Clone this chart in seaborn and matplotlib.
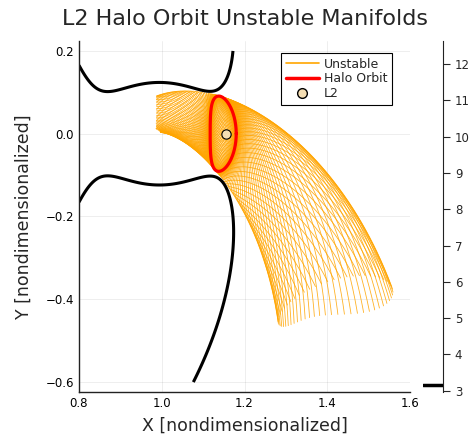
import numpy as np
import pandas as pd
import matplotlib
matplotlib.use("Agg")
import matplotlib.pyplot as plt
from matplotlib.lines import Line2D
import seaborn as sns

# ---------------- model parameters / chart data ----------------
MU = 0.012150585            # Earth-Moon mass ratio (CR3BP)
HALO_Z0 = 0.03              # halo out-of-plane amplitude at the y=0 crossing
HALO_X0_GUESS = 1.18
HALO_VY0_GUESS = -0.16
N_TRAJ = 60                 # manifold trajectories per branch
EPS = 1e-5                  # perturbation along unstable eigenvector
T_FINAL = 6.05              # integration time of manifold trajectories
MOON_STOP_R = 0.012         # stop trajectories on a close lunar approach
GRID_X = (0.8, 1.2)         # zero-velocity contour grid
GRID_Y = (-0.6, 0.2)
CBAR_LIM = (2.96, 12.64)
CBAR_TICKS = [3, 4, 5, 6, 7, 8, 9, 10, 11, 12]
X_TICKS = [0.8, 1.0, 1.2, 1.4, 1.6]
Y_TICKS = [-0.6, -0.4, -0.2, 0.0, 0.2]
XLIM = (0.8, 1.6)
YLIM = (-0.624, 0.224)
TITLE = "L2 Halo Orbit Unstable Manifolds"
XLABEL = "X [nondimensionalized]"
YLABEL = "Y [nondimensionalized]"
LEGEND_LABELS = ["Unstable", "Halo Orbit", "L2"]
ORANGE = "#FFA500"
RED = "#FF0000"
WHEAT = "#F5DEB3"

X_STOP = 1 - MU


# ---------------- CR3BP dynamics ----------------
def deriv(s):
    x, y, z = s[..., 0], s[..., 1], s[..., 2]
    vx, vy, vz = s[..., 3], s[..., 4], s[..., 5]
    r1 = np.sqrt((x + MU) ** 2 + y ** 2 + z ** 2)
    r2 = np.sqrt((x - 1 + MU) ** 2 + y ** 2 + z ** 2)
    c1 = (1 - MU) / r1 ** 3
    c2 = MU / r2 ** 3
    ax_ = 2 * vy + x - c1 * (x + MU) - c2 * (x - 1 + MU)
    ay_ = -2 * vx + y - c1 * y - c2 * y
    az_ = -c1 * z - c2 * z
    return np.stack([vx, vy, vz, ax_, ay_, az_], axis=-1)


def hess_u(p):
    x, y, z = p
    d1 = np.array([x + MU, y, z])
    d2 = np.array([x - 1 + MU, y, z])
    r1 = np.linalg.norm(d1)
    r2 = np.linalg.norm(d2)
    H = -((1 - MU) / r1 ** 3 + MU / r2 ** 3) * np.eye(3)
    H += 3 * (1 - MU) / r1 ** 5 * np.outer(d1, d1) + 3 * MU / r2 ** 5 * np.outer(d2, d2)
    H[0, 0] += 1
    H[1, 1] += 1
    return H


OMEGA = np.array([[0.0, 2.0, 0.0], [-2.0, 0.0, 0.0], [0.0, 0.0, 0.0]])


def deriv_stm(S):
    s = S[:6]
    Phi = S[6:].reshape(6, 6)
    A = np.zeros((6, 6))
    A[:3, 3:] = np.eye(3)
    A[3:, :3] = hess_u(s[:3])
    A[3:, 3:] = OMEGA
    return np.concatenate([deriv(s), (A @ Phi).ravel()])


def rk4(f, s, h):
    k1 = f(s)
    k2 = f(s + 0.5 * h * k1)
    k3 = f(s + 0.5 * h * k2)
    k4 = f(s + h * k3)
    return s + h / 6.0 * (k1 + 2 * k2 + 2 * k3 + k4)


def jacobi_2d(x, y):
    r1 = np.sqrt((x + MU) ** 2 + y ** 2)
    r2 = np.sqrt((x - 1 + MU) ** 2 + y ** 2)
    return x ** 2 + y ** 2 + 2 * (1 - MU) / r1 + 2 * MU / r2


def jacobi(s):
    x, y, z, vx, vy, vz = s[:6]
    r1 = np.sqrt((x + MU) ** 2 + y ** 2 + z ** 2)
    r2 = np.sqrt((x - 1 + MU) ** 2 + y ** 2 + z ** 2)
    return x ** 2 + y ** 2 + 2 * (1 - MU) / r1 + 2 * MU / r2 - (vx ** 2 + vy ** 2 + vz ** 2)


def half_orbit(x0, z0, vy0, h=0.002):
    S = np.concatenate([[x0, 0.0, z0, 0.0, vy0, 0.0], np.eye(6).ravel()])
    t = 0.0
    while t < 10:
        Sn = rk4(deriv_stm, S, h)
        if t > 0.3 and np.sign(Sn[1]) != np.sign(S[1]):
            dt = -S[1] / S[4]
            for _ in range(4):
                Sc = rk4(deriv_stm, S, dt)
                dt -= Sc[1] / Sc[4]
            Sc = rk4(deriv_stm, S, dt)
            return t + dt, Sc
        S = Sn
        t += h
    raise RuntimeError("no crossing")


# L2 location
xl = 1.15
for _ in range(50):
    f = xl - (1 - MU) * (xl + MU) / abs(xl + MU) ** 3 - MU * (xl - 1 + MU) / abs(xl - 1 + MU) ** 3
    df = 1 + 2 * (1 - MU) / abs(xl + MU) ** 3 + 2 * MU / abs(xl - 1 + MU) ** 3
    xl -= f / df
L2_X, L2_Y = xl, 0.0

# differential correction of the halo orbit
x0, vy0 = HALO_X0_GUESS, HALO_VY0_GUESS
for _ in range(40):
    th, S = half_orbit(x0, HALO_Z0, vy0)
    s = S[:6]
    Phi = S[6:].reshape(6, 6)
    f = deriv(s)
    err = np.array([s[3], s[5]])
    if np.max(np.abs(err)) < 1e-11:
        break
    D = np.array([[Phi[3, 0], Phi[3, 4]], [Phi[5, 0], Phi[5, 4]]])
    D -= np.outer([f[3], f[5]], [Phi[1, 0], Phi[1, 4]]) / s[4]
    d = np.linalg.solve(D, -err)
    nrm = np.max(np.abs(d))
    if nrm > 0.01:
        d *= 0.01 / nrm
    x0 += d[0]
    vy0 += d[1]

T_HALO = 2 * th
SUB = 50
n_steps = N_TRAJ * SUB
h = T_HALO / n_steps
S = np.concatenate([[x0, 0.0, HALO_Z0, 0.0, vy0, 0.0], np.eye(6).ravel()])
halo_pts = [S[:6].copy()]
samples = []
for k in range(n_steps):
    if k % SUB == 0:
        samples.append((S[:6].copy(), S[6:].reshape(6, 6).copy()))
    S = rk4(deriv_stm, S, h)
    halo_pts.append(S[:6].copy())
halo_pts = np.array(halo_pts)
M = S[6:].reshape(6, 6)
w, V = np.linalg.eig(M)
iu = np.argmax(np.abs(w))
vu = np.real(V[:, iu])
C_HALO = jacobi(halo_pts[0])

# manifold initial conditions (both branches)
ics = []
for s_i, P_i in samples:
    v = P_i @ vu
    v /= np.linalg.norm(v)
    ics.append(s_i + EPS * v)
    ics.append(s_i - EPS * v)
X = np.array(ics)
hm = 0.002
nm = int(round(T_FINAL / hm))
alive = np.ones(len(X), bool)
hist = [X[:, :2].copy()]
for k in range(nm):
    Xn = rk4(deriv, X, hm)
    X = np.where(alive[:, None], Xn, X)
    r2 = np.sqrt((X[:, 0] - 1 + MU) ** 2 + X[:, 1] ** 2 + X[:, 2] ** 2)
    alive &= (X[:, 0] >= X_STOP) & (r2 >= MOON_STOP_R)
    hist.append(X[:, :2].copy())
hist = np.array(hist)  # (steps, ntraj, 2)

rows = []
for j in range(hist.shape[1]):
    xs = hist[:, j, 0]
    ys = hist[:, j, 1]
    moved = np.nonzero(np.diff(xs) != 0)[0]
    end = moved[-1] + 2 if len(moved) else len(xs)
    idx = np.r_[np.arange(0, end - 1, 3), end - 1]
    rows.append(pd.DataFrame({"traj": j, "order": np.arange(len(idx)), "x": xs[idx], "y": ys[idx]}))
man_df = pd.DataFrame(pd.concat(rows, ignore_index=True))
halo_df = pd.DataFrame({"x": halo_pts[:, 0], "y": halo_pts[:, 1]})
l2_df = pd.DataFrame({"x": [L2_X], "y": [L2_Y]})

# zero-velocity contour grid
gx = np.linspace(GRID_X[0], GRID_X[1], 401)
gy = np.linspace(GRID_Y[0], GRID_Y[1], 801)
GX, GY = np.meshgrid(gx, gy)
CJ = jacobi_2d(GX, GY)

# ---------------- plotting ----------------
sns.set_style("white")
plt.rcParams["font.family"] = ["DejaVu Sans"]

fig = plt.figure(figsize=(4.72, 4.37), dpi=100)
ax = fig.add_axes([79 / 472, 45 / 437, 331 / 472, 351 / 437])
cax = fig.add_axes([423 / 472, 45 / 437, 20 / 472, 351 / 437])

sns.lineplot(data=man_df, x="x", y="y", units="traj", estimator=None, sort=False,
             color=ORANGE, lw=0.6, alpha=0.85, ax=ax, legend=False)
ax.contour(GX, GY, CJ, levels=[C_HALO], colors="black", linewidths=2.2)
sns.lineplot(data=halo_df, x="x", y="y", sort=False, color=RED, lw=2.3, ax=ax, legend=False)
sns.scatterplot(data=l2_df, x="x", y="y", color=WHEAT, edgecolor="black", linewidth=0.8,
                s=45, ax=ax, legend=False, zorder=5)

ax.set_xlim(*XLIM)
ax.set_ylim(*YLIM)
ax.set_xticks(X_TICKS)
ax.set_yticks(Y_TICKS)
ax.set_xticklabels([f"{t:.1f}" for t in X_TICKS])
ax.set_yticklabels([f"{t:.1f}".replace("-", "\u2212") for t in Y_TICKS])
ax.tick_params(direction="in", length=3, labelsize=8.5, colors="black")
ax.grid(True, color="black", alpha=0.08, lw=0.6)
for side in ["top", "right"]:
    ax.spines[side].set_visible(False)
for side in ["left", "bottom"]:
    ax.spines[side].set_color("#222222")
    ax.spines[side].set_linewidth(1.0)
ax.set_xlabel(XLABEL, fontsize=12.5, labelpad=5)
ax.set_ylabel(YLABEL, fontsize=12.5, labelpad=9)
fig.text(0.5 * (79 + 410) / 472, 1 - 19 / 437, TITLE, ha="center", va="center", fontsize=16)

handles = [Line2D([], [], color=ORANGE, lw=1.2),
           Line2D([], [], color=RED, lw=2.5),
           Line2D([], [], marker="o", ls="none", mfc=WHEAT, mec="black", ms=7)]
leg = ax.legend(handles, LEGEND_LABELS, loc="upper right", bbox_to_anchor=(0.965, 0.985),
                fontsize=9, frameon=True, fancybox=False, edgecolor="black", framealpha=1,
                handlelength=2.6, handletextpad=0.4, borderpad=0.4, labelspacing=0.15)
leg.get_frame().set_linewidth(0.8)

cax.set_ylim(*CBAR_LIM)
cax.axhline(C_HALO, color="black", lw=2.5)
cax.set_xticks([])
cax.yaxis.tick_right()
cax.set_yticks(CBAR_TICKS)
cax.tick_params(axis="y", direction="out", length=5, labelsize=8.5)
for side in ["top", "left", "bottom"]:
    cax.spines[side].set_visible(False)
cax.spines["right"].set_color("#222222")
cax.set_facecolor("none")

fig.savefig("out.png", dpi=100)
